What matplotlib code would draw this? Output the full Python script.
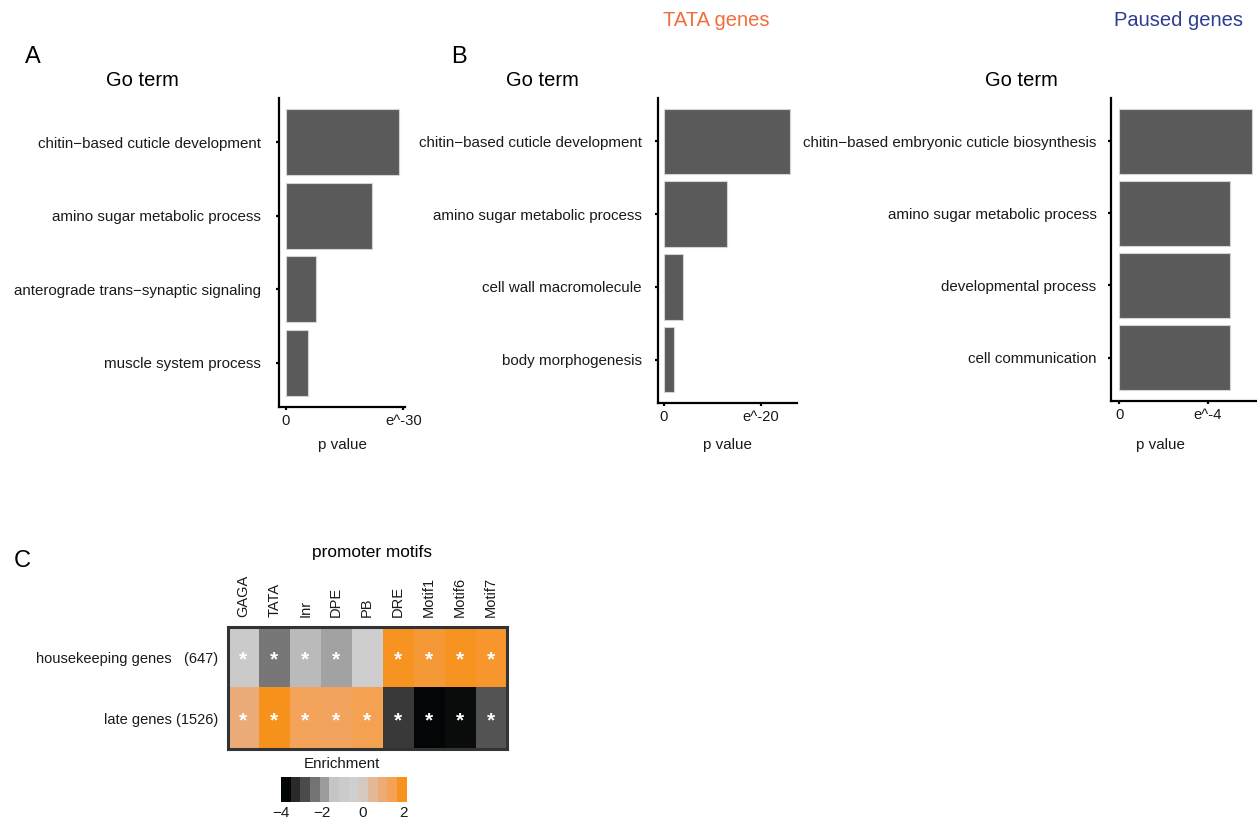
import matplotlib

matplotlib.use("Agg")

import matplotlib.pyplot as plt
import numpy as np
from matplotlib.cm import ScalarMappable
from matplotlib.colors import LinearSegmentedColormap, Normalize

plt.rcParams["font.family"] = ["Liberation Sans", "DejaVu Sans"]

FIG_W, FIG_H = 1257, 822

# GO enrichment, all genes (panel A); bar length = -log p
terms_all = [
    "chitin−based cuticle development",
    "amino sugar metabolic process",
    "anterograde trans−synaptic signaling",
    "muscle system process",
]
pval_all = [28.9, 21.9, 7.75, 5.7]

# GO enrichment, TATA genes
terms_tata = [
    "chitin−based cuticle development",
    "amino sugar metabolic process",
    "cell wall macromolecule",
    "body morphogenesis",
]
pval_tata = [25.9, 12.9, 4.0, 2.0]

# GO enrichment, paused genes
terms_paused = [
    "chitin−based embryonic cuticle biosynthesis",
    "amino sugar metabolic process",
    "developmental process",
    "cell communication",
]
pval_paused = [6.0, 5.0, 5.0, 5.0]

# promoter motif enrichment (panel C)
motifs = ["GAGA", "TATA", "Inr", "DPE", "PB", "DRE", "Motif1", "Motif6", "Motif7"]
gene_groups = ["housekeeping genes   (647)", "late genes (1526)"]
enrich_housekeeping = [-1.0, -2.4, -1.55, -1.85, -0.5, 2.1, 1.9, 2.1, 2.0]
enrich_late = [1.05, 2.15, 1.55, 1.5, 1.65, -3.25, -4.0, -3.9, -2.85]
signif_housekeeping = [1, 1, 1, 1, 0, 1, 1, 1, 1]
signif_late = [1, 1, 1, 1, 1, 1, 1, 1, 1]

cbar_ticks = [-4, -2, 0, 2]


def px_rect(x0, y0, x1, y1):
    return [x0 / FIG_W, 1 - y1 / FIG_H, (x1 - x0) / FIG_W, (y1 - y0) / FIG_H]


def fig_text(fig, x, y, s, **kw):
    fig.text(x / FIG_W, 1 - y / FIG_H, s, ha="center", va="center", **kw)


def plot_go_panel(fig, rect, terms, values, xlim, tick_label, label_pad):
    ax = fig.add_axes(px_rect(*rect))
    ypos = np.arange(len(terms))
    ax.barh(ypos, values, height=0.9, color="#595a59", edgecolor="#d4d4d4", linewidth=0.8)
    ax.set_xlim(*xlim)
    ax.set_ylim(len(terms) - 0.4, -0.6)
    ax.set_yticks(ypos)
    ax.set_yticklabels(terms, fontsize=10.9, color="#1a1a1a")
    ax.set_xticks([0, tick_label[0]])
    ax.set_xticklabels(["0", tick_label[1]], fontsize=10.7, color="#1a1a1a")
    for side in ["top", "right"]:
        ax.spines[side].set_visible(False)
    for side in ["left", "bottom"]:
        ax.spines[side].set_linewidth(1.6)
    ax.tick_params(axis="y", length=2.2, width=1.6, pad=label_pad)
    ax.tick_params(axis="x", length=2.2, width=1.6, pad=2.5)
    return ax


def build_cmap():
    stops = [-4.0, -3.49, -2.97, -2.46, -1.95, -1.44, -0.93, -0.41, 0.10, 0.61, 1.13, 1.64, 2.15]
    colors = ["#030606", "#2a2a2a", "#4b4b4b", "#737373", "#9b9b9b", "#c5c5c5", "#cbcbcb",
              "#cfcfcf", "#d5c8be", "#e3b896", "#eeab76", "#f4a256", "#f7921c"]
    lo, hi = stops[0], stops[-1]
    nodes = [((s - lo) / (hi - lo), c) for s, c in zip(stops, colors)]
    return LinearSegmentedColormap.from_list("enrich", nodes), Normalize(lo, hi)


def plot_motif_heatmap(fig):
    cmap, norm = build_cmap()
    values = np.array([enrich_housekeeping, enrich_late])
    signif = np.array([signif_housekeeping, signif_late])

    ax = fig.add_axes(px_rect(227.7, 626.7, 506.7, 749))
    ax.imshow(values, cmap=cmap, norm=norm, aspect="auto",
              extent=(-0.5, len(motifs) - 0.5, len(gene_groups) - 0.5, -0.5))
    for i in range(len(gene_groups)):
        for j in range(len(motifs)):
            if signif[i, j]:
                ax.text(j, i + 0.04, "*", ha="center", va="center", color="white",
                        fontsize=15, fontweight="bold")
    ax.xaxis.tick_top()
    ax.set_xticks(range(len(motifs)))
    ax.set_xticklabels(motifs, rotation=90, fontsize=10.5, color="#1a1a1a")
    ax.set_yticks(range(len(gene_groups)))
    ax.set_yticklabels(gene_groups, fontsize=10.5, color="#1a1a1a")
    ax.tick_params(length=0, pad=7)
    ax.tick_params(axis="x", pad=7)
    for sp in ax.spines.values():
        sp.set_linewidth(2.2)
        sp.set_color("#333333")

    cax = fig.add_axes(px_rect(281, 777.3, 406.7, 801.7))
    sm = ScalarMappable(norm=norm, cmap=cmap.resampled(13))
    cb = fig.colorbar(sm, cax=cax, orientation="horizontal", ticks=cbar_ticks)
    cb.outline.set_visible(False)
    cb.ax.tick_params(length=0, pad=3, labelsize=11, labelcolor="#1a1a1a")


def main() -> None:
    fig = plt.figure(figsize=(FIG_W / 100, FIG_H / 100), dpi=100)

    plot_go_panel(fig, (279, 98, 405, 407), terms_all, pval_all,
                  (-1.79, 30.43), (30, "e^-30"), 10.5)
    plot_go_panel(fig, (657.7, 97.7, 796.7, 403.3), terms_tata, pval_tata,
                  (-1.3, 27.36), (20, "e^-20"), 9.3)
    plot_go_panel(fig, (1110.7, 97.7, 1258, 401), terms_paused, pval_paused,
                  (-0.38, 6.28), (4, "e^-4"), 8)

    fig_text(fig, 33, 57, "A", fontsize=17)
    fig_text(fig, 459, 57, "B", fontsize=17)
    fig_text(fig, 22, 561, "C", fontsize=17)
    for x in [142, 542, 1021]:
        fig_text(fig, x, 80, "Go term", fontsize=14.5)
    fig_text(fig, 716, 20, "TATA genes", fontsize=14.5, color="#f26d3d")
    fig_text(fig, 1179, 20, "Paused genes", fontsize=14.5, color="#2e3d92")
    for x in [342, 727, 1160]:
        fig_text(fig, x, 445, "p value", fontsize=10.9, color="#1a1a1a")

    plot_motif_heatmap(fig)
    fig_text(fig, 372, 552, "promoter motifs", fontsize=12.4)
    fig_text(fig, 342, 764, "Enrichment", fontsize=10.9, color="#1a1a1a")

    fig.savefig("out.png", dpi=100)
    plt.close(fig)


if __name__ == "__main__":
    main()
